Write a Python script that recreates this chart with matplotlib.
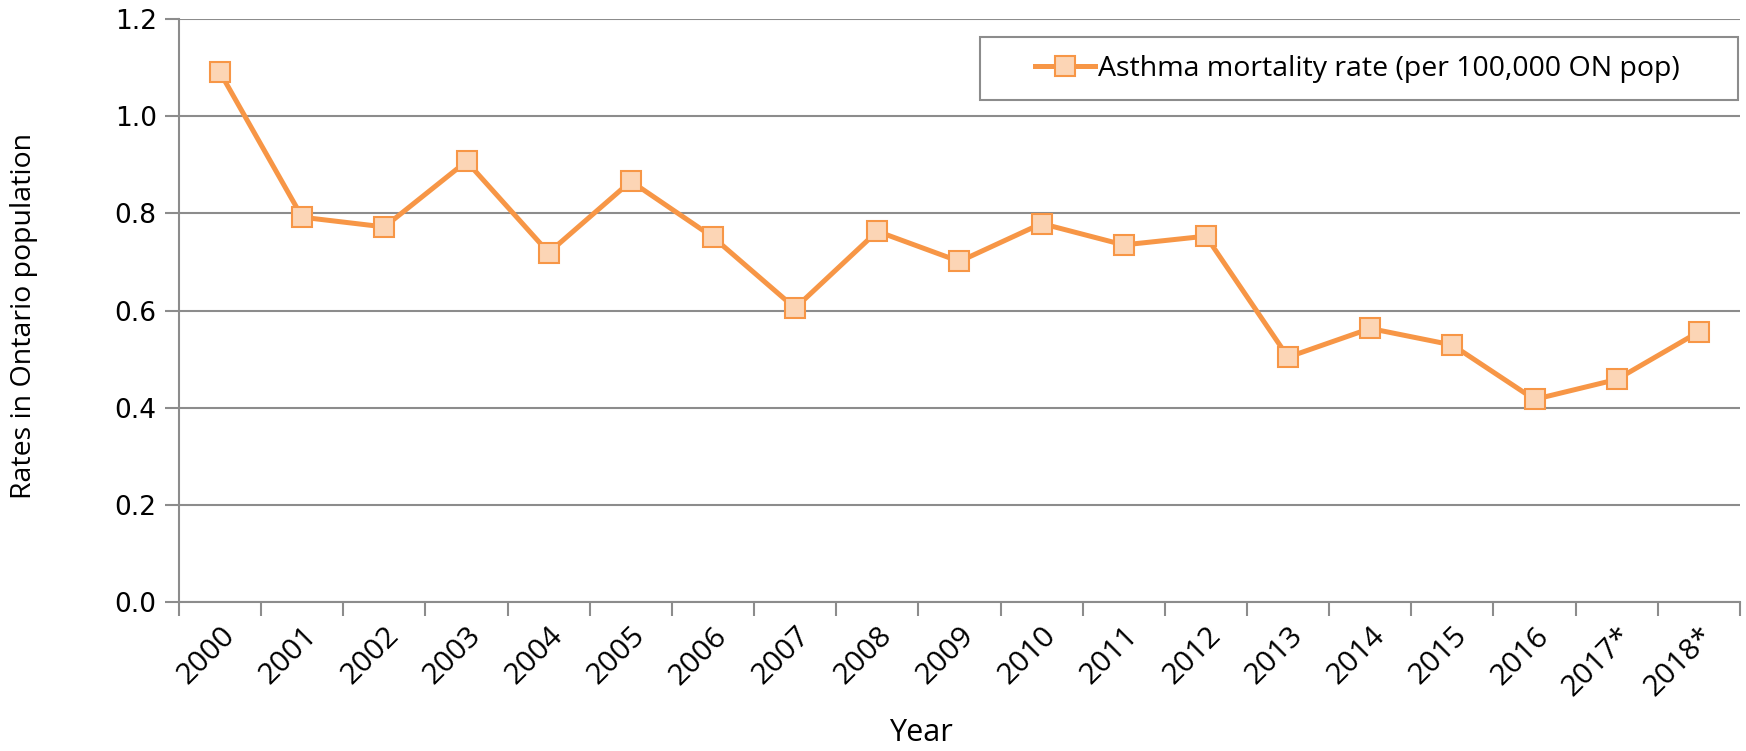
import numpy as np
import matplotlib.pyplot as plt
from matplotlib.patches import Rectangle
from matplotlib.ticker import FixedLocator

years = ['2000', '2001', '2002', '2003', '2004', '2005', '2006', '2007', '2008', '2009',
         '2010', '2011', '2012', '2013', '2014', '2015', '2016', '2017*', '2018*']
rates = [1.090, 0.792, 0.772, 0.907, 0.719, 0.866, 0.751, 0.605, 0.763, 0.701,
         0.779, 0.735, 0.753, 0.504, 0.563, 0.529, 0.417, 0.458, 0.556]
yticks = [0.0, 0.2, 0.4, 0.6, 0.8, 1.0, 1.2]

grid_c = '#8c8c8c'
txt_font = 'Open Sans'

fig = plt.figure(figsize=(17.46, 7.51), dpi=100)
ax = fig.add_axes([0.1025, 0.1984, 0.894, 0.7763])

x = np.arange(len(years))
ax.plot(x, rates, color='#F79646', linewidth=3.6, marker='s', markersize=15,
        markerfacecolor='#FCD5B5', markeredgecolor='#F79646', markeredgewidth=1.5,
        label='Asthma mortality rate (per 100,000 ON pop)', zorder=3)

ax.set_xlim(-0.5, len(years) - 0.5)
ax.set_ylim(0, 1.2)
ax.set_yticks(yticks)
ax.set_yticklabels(['{:.1f}'.format(v) for v in yticks], fontsize=19, family='DejaVu Sans')
ax.yaxis.grid(True, color=grid_c, linewidth=1.5)
ax.set_axisbelow(True)

ax.set_xticks(x)
ax.set_xticklabels(years, rotation=45, ha='right', rotation_mode='anchor',
                   fontsize=21.5, family=txt_font)
ax.xaxis.set_minor_locator(FixedLocator(np.arange(-0.5, len(years), 1.0)))
ax.tick_params(axis='x', which='major', length=0, pad=14)
ax.tick_params(axis='x', which='minor', length=10, width=1.5, color=grid_c)
ax.tick_params(axis='y', length=10, width=1.5, color=grid_c, pad=6)

for s in ['top', 'right']:
    ax.spines[s].set_visible(False)
for s in ['left', 'bottom']:
    ax.spines[s].set_color(grid_c)
    ax.spines[s].set_linewidth(1.5)

ax.set_xlabel('Year', fontsize=22, family=txt_font)
ax.xaxis.set_label_coords(0.475, -0.225)
ax.xaxis.label.set_va('center')
ax.set_ylabel('Rates in Ontario population', fontsize=20.5, family=txt_font)
ax.yaxis.set_label_coords(-0.099, 0.49)
ax.yaxis.label.set_va('center')

# legend box
box = Rectangle((0.513, 0.861), 0.486, 0.108, transform=ax.transAxes, fill=True,
                facecolor='white', edgecolor=grid_c, linewidth=1.5, zorder=4, clip_on=False)
ax.add_patch(box)
leg = ax.legend(loc='center', bbox_to_anchor=(0.755, 0.915), frameon=False,
                prop={'family': txt_font, 'size': 20.5}, handlelength=2.1,
                handletextpad=0.1, borderaxespad=0, borderpad=0)
leg.set_zorder(5)

fig.savefig('out.png', dpi=100)
